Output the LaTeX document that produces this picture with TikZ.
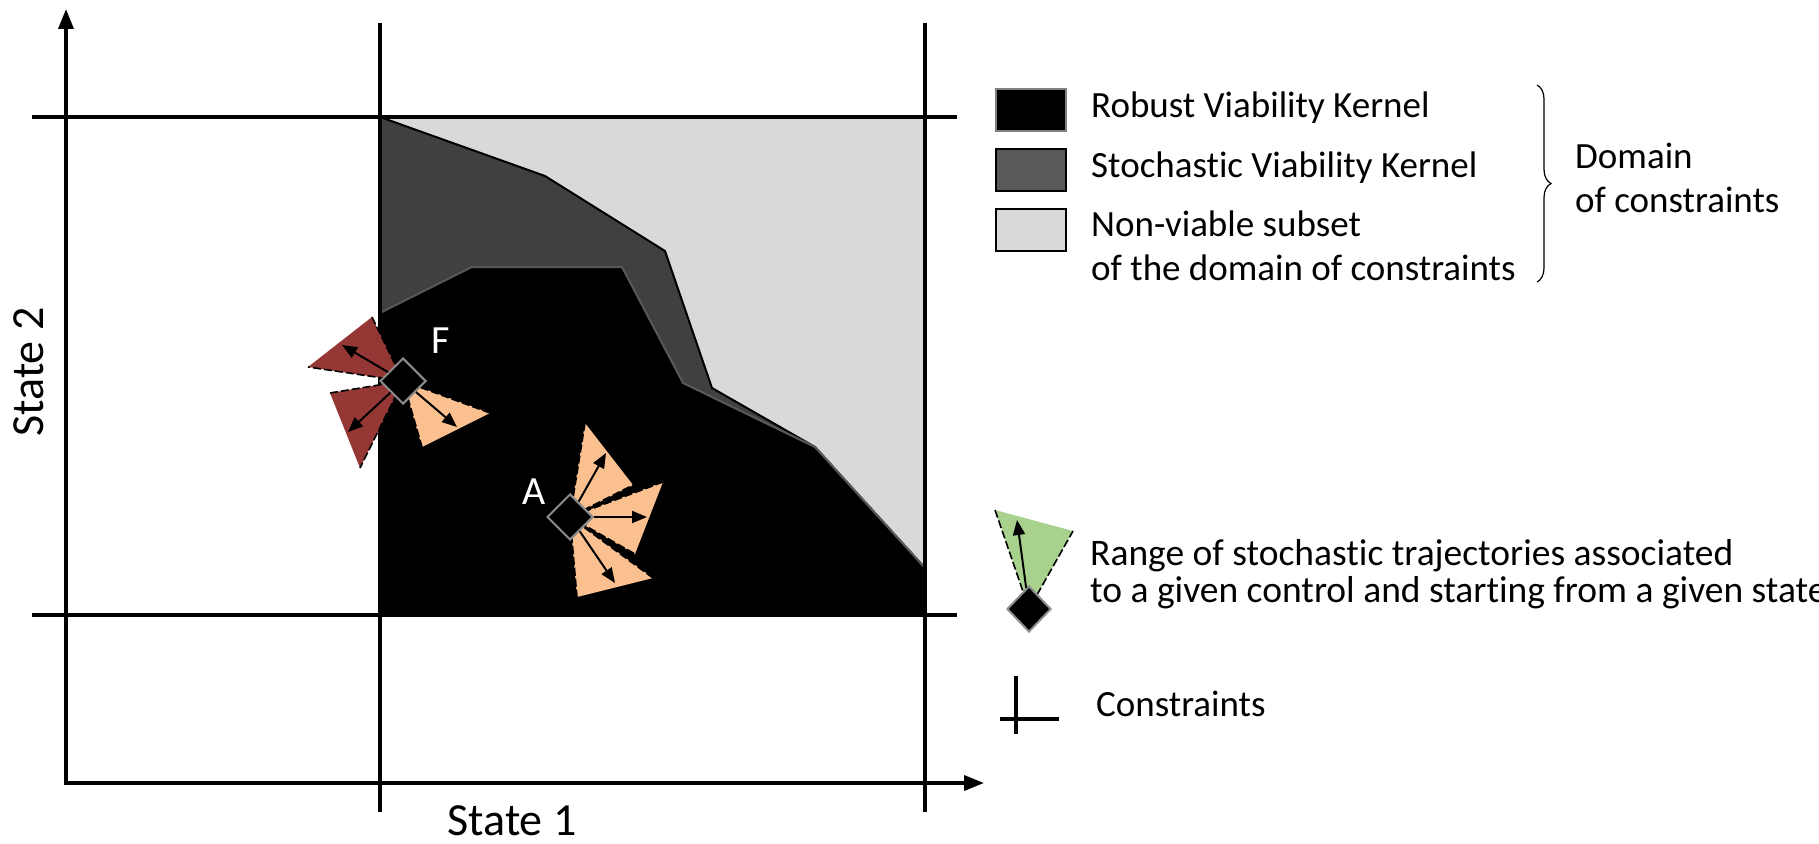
\documentclass[tikz,border=0pt]{standalone}
\usepackage{fontspec}
\setmainfont{Carlito}[Ligatures=NoCommon]
\usetikzlibrary{shapes.geometric,arrows.meta,decorations.pathreplacing}
\definecolor{lgray}{HTML}{D9D9D9}
\definecolor{dgray}{HTML}{404040}
\definecolor{boxgray}{HTML}{595959}
\definecolor{redcone}{HTML}{953735}
\definecolor{peach}{HTML}{FAC090}
\definecolor{green}{HTML}{A9D18E}
\tikzset{
  cons/.style={line width=3.5pt},
  axis/.style={line width=3.5pt,-{Triangle[length=20pt,width=15pt]}},
  conedge/.style={line width=1.6pt,dash pattern=on 8pt off 3pt},
  dstate/.style={diamond,aspect=1,minimum width=46pt,minimum height=46pt,inner sep=0pt,fill=black,draw=gray!90,line width=2pt},
  traj/.style={line width=2pt,-{Triangle[length=15pt,width=12pt]}},
  lbl/.style={text=white,font=\fontsize{40}{48}\selectfont,inner sep=0pt},
  txt/.style={font=\fontsize{37}{45}\selectfont,inner sep=0pt,anchor=base west},
  legbox/.style={line width=2.5pt,minimum width=70pt,minimum height=42pt,inner sep=0pt},
}
\begin{document}
\begin{tikzpicture}[x=1pt,y=-1pt]
\useasboundingbox (0,0) rectangle (1819,843);
% regions
\fill[lgray] (380,117) rectangle (925,615);
\filldraw[fill=dgray,draw=black,line width=2pt] (380,117) -- (545,176) -- (665,251) -- (712,388) -- (815,447) -- (925,568) -- (925,615) -- (380,615) -- cycle;
\filldraw[fill=black,draw=boxgray,line width=2pt] (380,313) -- (472,267) -- (622,267) -- (683,383) -- (815,447) -- (925,568) -- (925,615) -- (380,615) -- cycle;
% constraints
\coordinate (v1t) at (380,23); \coordinate (v1b) at (380,812);
\coordinate (v2t) at (925,23); \coordinate (v2b) at (925,812);
\coordinate (h1l) at (32,117); \coordinate (h1r) at (957,117);
\coordinate (h2l) at (32,615); \coordinate (h2r) at (957,615);
\draw[cons] (v1t) -- (v1b);
\draw[cons] (v2t) -- (v2b);
\draw[cons] (h1l) -- (h1r);
\draw[cons] (h2l) -- (h2r);
% axes
\coordinate (O) at (66,783);
\coordinate (Ytip) at (66,9);
\coordinate (Xtip) at (984,783);
\draw[axis] ([yshift=-1.75pt]O) -- (Ytip);
\draw[axis] ([xshift=-1.75pt]O) -- (Xtip);
\node[font=\fontsize{46}{55}\selectfont,anchor=base,inner sep=0pt] (s1) at (512,835) {State 1};
\node[font=\fontsize{46}{55}\selectfont,anchor=base,rotate=90,inner sep=0pt] (s2) at (43,372) {State 2};
% cones at F
\coordinate (Fc) at (403,381);
\coordinate (f1a) at (372,317); \coordinate (f1b) at (308,367);
\coordinate (f2a) at (330,393); \coordinate (f2b) at (360,468);
\coordinate (f3a) at (490,413); \coordinate (f3b) at (422,447);
\fill[redcone] (Fc) -- (f1a) -- (f1b) -- cycle;
\draw[conedge] (f1a) -- (Fc) -- (f1b);
\fill[redcone] (Fc) -- (f2a) -- (f2b) -- cycle;
\draw[conedge] (f2a) -- (Fc) -- (f2b);
\fill[peach] (Fc) -- (f3a) -- (f3b) -- cycle;
\draw[conedge] (f3a) -- (Fc) -- (f3b);
% cones at A
\coordinate (Ac) at (570,517);
\coordinate (a1a) at (585,423); \coordinate (a1b) at (633,485);
\coordinate (a2a) at (663,482); \coordinate (a2b) at (635,554);
\coordinate (a3a) at (653,578); \coordinate (a3b) at (577,597);
\fill[peach] (Ac) -- (a1a) -- (a1b) -- cycle;
\draw[conedge] (a1a) -- (Ac) -- (a1b);
\fill[peach] (Ac) -- (a2a) -- (a2b) -- cycle;
\draw[conedge] (a2a) -- (Ac) -- (a2b);
\fill[peach] (Ac) -- (a3a) -- (a3b) -- cycle;
\draw[conedge] (a3a) -- (Ac) -- (a3b);
% states
\node[dstate] (F) at (Fc) {};
\node[dstate] (A) at (Ac) {};
\coordinate (ft1) at (342,345); \coordinate (ft2) at (348,432); \coordinate (ft3) at (457,427);
\coordinate (at1) at (606,453); \coordinate (at2) at (647,517); \coordinate (at3) at (615,583);
\draw[traj] (F) -- (ft1);
\draw[traj] (F) -- (ft2);
\draw[traj] (F) -- (ft3);
\draw[traj] (A) -- (at1);
\draw[traj] (A) -- (at2);
\draw[traj] (A) -- (at3);
\node[lbl] (Flbl) at (441,341) {F};
\node[lbl] (Albl) at (534,492) {A};
% legend
\node[legbox,fill=black,draw=gray] (b1) at (1031,110) {};
\node[legbox,fill=boxgray,draw=black] (b2) at (1031,170) {};
\node[legbox,fill=lgray,draw=black] (b3) at (1031,230) {};
\node[txt] (t1) at (1091,117) {Robust Viability Kernel};
\node[txt] (t2) at (1091,177) {Stochastic Viability Kernel};
\node[txt] (t3) at (1091,236) {Non-viable subset};
\node[txt] (t4) at (1091,280) {of the domain of constraints};
\coordinate (brt) at (1537,85); \coordinate (brb) at (1537,282);
\draw[decorate,decoration={brace,amplitude=14pt},line width=1.2pt] (brt) -- (brb);
\node[txt] (d1) at (1575,168) {Domain};
\node[txt] (d2) at (1575,212) {of constraints};
% legend cone
\coordinate (Lc) at (1029,609);
\coordinate (lca) at (995,510); \coordinate (lcb) at (1073,531);
\fill[green] (Lc) -- (lca) -- (lcb) -- cycle;
\draw[conedge] (lca) -- (Lc) -- (lcb);
\node[dstate,minimum width=44pt,minimum height=46pt] (L) at (Lc) {};
\coordinate (lt) at (1017,520);
\draw[traj] (L) -- (lt);
\node[txt,font=\fontsize{37.5}{45}\selectfont] (r1) at (1090,565) {Range of stochastic trajectories associated};
\node[txt,font=\fontsize{37.5}{45}\selectfont] (r2) at (1090,602) {to a given control and starting from a given state};
% constraints legend
\coordinate (cvt) at (1016,676); \coordinate (cvb) at (1016,734);
\coordinate (chl) at (1000,719); \coordinate (chr) at (1059,719);
\draw[cons] (cvt) -- (cvb);
\draw[cons] (chl) -- (chr);
\node[txt] (c1) at (1096,716) {Constraints};
\end{tikzpicture}
\end{document}
